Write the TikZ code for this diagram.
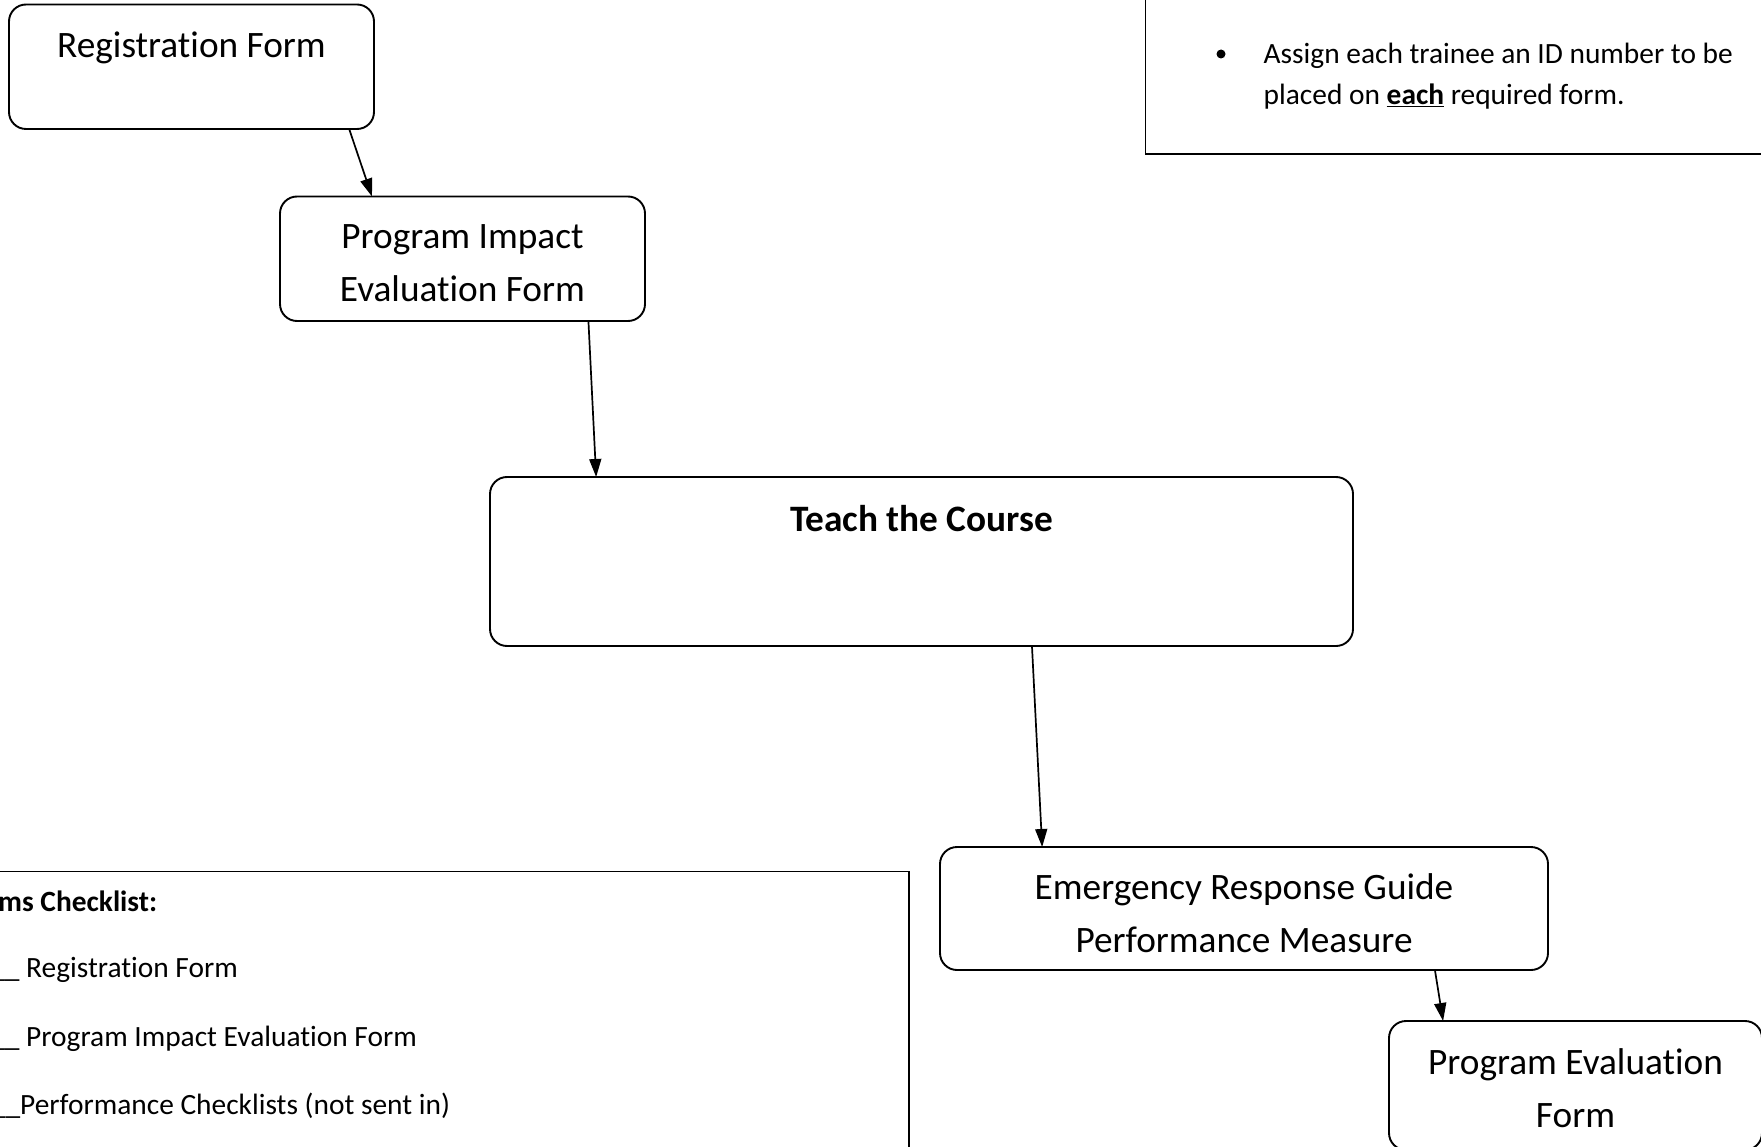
\documentclass[tikz,border=0pt]{standalone}
\usepackage{fontspec}
\setmainfont{Carlito}[RawFeature=-liga]
\usetikzlibrary{calc,arrows.meta}
\begin{document}
\begin{tikzpicture}[x=1pt,y=-1pt,
  box/.style={draw, line width=1.9pt, rounded corners=17pt, inner sep=0pt, outer sep=0pt},
  plainbox/.style={draw, line width=1.9pt, inner sep=0pt, outer sep=0pt},
  big/.style={font=\fontsize{37.3}{53}\selectfont, inner sep=0pt, anchor=base},
  small/.style={font=\fontsize{29.4}{42}\selectfont, inner sep=0pt, anchor=base west},
  arr/.style={line width=1.7pt, -{Triangle[length=18pt,width=12pt]}}]
\useasboundingbox (0,0) rectangle (1761,1147);
\clip (0,0) rectangle (1761,1147);

% flow boxes
\node[box, minimum width=365pt, minimum height=124.5pt] (reg) at (191.5,66.75) {};
\node[box, minimum width=365pt, minimum height=124.5pt] (pie) at (462.5,258.75) {};
\node[box, minimum width=863pt, minimum height=169pt] (teach) at (921.5,561.5) {};
\node[box, minimum width=608pt, minimum height=123pt] (erg) at (1244,908.5) {};
\node[box, minimum width=373pt, minimum height=129pt] (pef) at (1575.5,1085.5) {};

% texts
\node[big] (regt) at (191.5,58) {Registration Form};
\node[big] (piet1) at (462.5,249) {Program Impact};
\node[big] (piet2) at (462.5,302) {Evaluation Form};
\node[big, font=\fontsize{37.3}{53}\selectfont\bfseries] (teacht) at (921.5,531) {Teach the Course};
\node[big] (erg1) at (1244,899) {Emergency Response Guide};
\node[big] (erg2) at (1244,952) {Performance Measure};
\node[big] (pef1) at (1575.5,1074.5) {Program Evaluation};
\node[big] (pef2) at (1575.5,1127) {Form};

% connectors
\draw[arr] ($(reg.south west)!0.932!(reg.south east)$) -- ($(pie.north west)!0.252!(pie.north east)$);
\draw[arr] ($(pie.south west)!0.845!(pie.south east)$) -- ($(teach.north west)!0.123!(teach.north east)$);
\draw[arr] ($(teach.south west)!0.628!(teach.south east)$) -- ($(erg.north west)!0.168!(erg.north east)$);
\draw[arr] ($(erg.south west)!0.814!(erg.south east)$) -- ($(pef.north west)!0.145!(pef.north east)$);

% top-right note box
\node[plainbox, minimum width=654.5pt, minimum height=194pt] (idbox) at (1472.75,57) {};
\node[circle, fill, inner sep=0pt, minimum size=9pt] (bul) at (1221,54) {};
\node[small] (id1) at (1263.5,63.5) {Assign each trainee an ID number to be};
\node[small] (id2) at (1263.5,104.5) {placed on \underline{\textbf{each}} required form.};

% checklist box
\node[plainbox, minimum width=948.6pt, minimum height=328.5pt] (chk) at (434.3,1035.75) {};
\node[font=\fontsize{29.4}{42}\selectfont\bfseries, inner sep=0pt, anchor=base west] (chkh) at (-2,911) {ms Checklist:};
\node[small] (c1) at (26,977.5) {\llap{\_\_ }Registration Form};
\node[small] (c2) at (26,1046.5) {\llap{\_\_ }Program Impact Evaluation Form};
\node[small] (c3) at (20,1114.5) {\llap{\_\_}Performance Checklists (not sent in)};
\end{tikzpicture}
\end{document}
